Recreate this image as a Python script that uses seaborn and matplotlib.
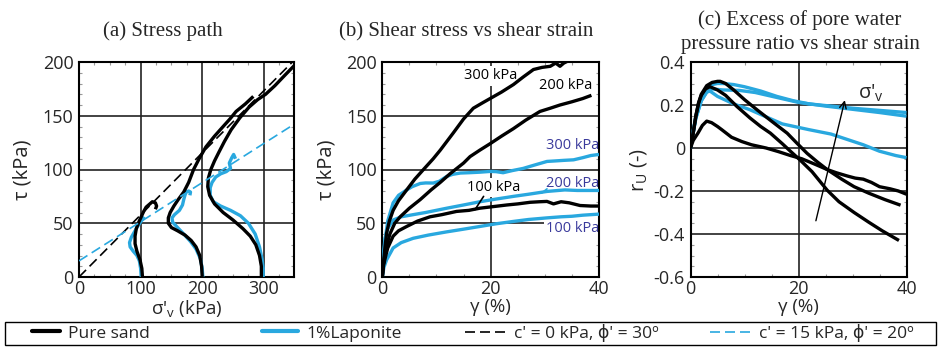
import matplotlib
matplotlib.use("Agg")
import matplotlib.pyplot as plt
import matplotlib.ticker as mticker
from matplotlib.lines import Line2D
from matplotlib.patches import Rectangle
import numpy as np
import seaborn as sns

# ---- (a) stress path: sigma'_v (kPa), tau (kPa)
sand100_sig = [103, 102, 99, 94, 91, 91, 93, 97, 101, 105, 109, 115, 119, 124, 126, 124]
sand100_tau = [0, 8, 16, 24, 31, 38, 45, 51, 56, 61, 65, 68, 70, 69, 66, 63]
sand200_sig = [200, 199, 196, 190, 182, 172, 160, 150, 145, 145, 148, 154, 161, 170, 178, 186,
               195, 206, 220, 234, 245, 255, 270, 283]
sand200_tau = [0, 10, 20, 28, 34, 39, 43, 46, 50, 55, 60, 66, 72, 79, 88, 100,
               110, 121, 131, 140, 147, 154, 161, 168]
sand300_sig = [296, 296, 293, 287, 278, 266, 250, 234, 220, 212, 209, 210, 214, 220, 227, 236,
               247, 261, 276, 290, 303, 318, 333, 350]
sand300_tau = [0, 10, 20, 30, 38, 45, 53, 60, 68, 76, 84, 92, 100, 108, 116, 126,
               137, 148, 158, 165, 170, 178, 187, 197]
lap100_sig = [101, 100, 98, 94, 88, 83, 82, 85, 90, 95, 101, 106]
lap100_tau = [0, 8, 15, 20, 24, 28, 32, 37, 42, 47, 52, 56]
lap200_sig = [201, 200, 197, 190, 181, 170, 160, 152, 151, 155, 163, 168, 170, 172, 174, 178, 181, 180]
lap200_tau = [0, 8, 17, 26, 33, 40, 46, 51, 55, 58, 62, 67, 72, 76, 79, 80, 79, 76]
lap300_sig = [299, 299, 297, 293, 286, 275, 262, 246, 230, 218, 213, 213, 216, 222, 230, 239,
              246, 244, 248, 251, 254]
lap300_tau = [0, 8, 17, 28, 40, 50, 57, 62, 66, 70, 76, 83, 88, 93, 96, 98,
              101, 106, 111, 114, 110]

# failure envelopes (c' kPa, phi' deg)
env_sand = (0.0, 30.0)
env_lap = (15.0, 20.0)
env_sig = [0, 350]

# ---- (b) shear stress vs shear strain: gamma (%), tau (kPa)
sand300_g = [0, 0.2, 0.5, 0.8, 1.3, 2, 3, 4.5, 6, 7.6, 9.4, 10.7, 13.1, 15, 16.8, 18.5, 19.9,
             22, 24.2, 26, 27.9, 29.5, 31, 32, 32.8, 33.5, 34.3]
sand300_t = [0, 12, 28, 41, 52, 62, 71, 81, 91, 100, 110, 118, 134, 147, 157, 162, 166,
             172, 179, 186, 193, 195, 196, 199, 196, 199, 201]
sand200_g = [0, 0.2, 0.6, 1.4, 2.3, 3.3, 5, 7, 9, 10.7, 12.5, 15, 16.2, 18, 19.9, 22, 24.2,
             26.5, 29.1, 31, 32.8, 35, 37, 38.6]
sand200_t = [0, 12, 25, 40, 50, 56, 64, 72, 81, 88, 96, 106, 112, 118, 124, 131, 138,
             146, 154, 157, 160, 163, 166, 169]
sand100_g = [0, 0.2, 0.6, 1, 2, 3, 4.5, 6.5, 8.8, 11, 13.7, 16, 18, 20.5, 23, 25, 27.3, 29,
             30.4, 31.6, 33, 34.5, 36.5, 38.5, 40]
sand100_t = [0, 10, 19, 27, 38, 43, 47, 52, 56, 58, 61, 62, 64, 65.5, 67, 68, 69.5, 70,
             70.3, 68, 70, 69, 66.5, 66, 66]
lap300_g = [0, 0.2, 0.5, 1, 2, 3, 4.5, 5.5, 7, 8, 9.4, 10.5, 11.9, 13, 14.4, 16, 18, 19.9,
            21, 22.3, 24, 26, 28, 30.4, 32, 33.5, 35.3, 37, 38.5, 40]
lap300_t = [0, 15, 34, 52, 69, 76, 81, 84, 87, 87.5, 87.4, 89, 93.6, 95.5, 96.7, 97, 97.5, 98.2,
            98, 97, 99, 101, 104, 107.5, 108, 108.5, 109, 111, 113, 114]
lap200_g = [0, 0.2, 0.5, 1, 2, 3.5, 5.7, 8, 11.9, 15, 18, 21, 24.2, 27, 30.4, 33.7, 36, 38, 40]
lap200_t = [0, 20, 36, 45, 53, 56, 58, 60, 64, 67, 70, 72.5, 75, 77, 79.6, 81, 80.5, 80.5, 80.5]
lap100_g = [0, 0.3, 0.8, 2, 3.5, 5.7, 8.5, 11.9, 15, 18, 21, 24.2, 27, 30.4, 33, 35, 37, 40]
lap100_t = [0, 9, 16, 27, 32, 36, 39, 42, 44.5, 47, 49.5, 51.7, 53.5, 55, 56, 56.5, 57.5, 58.5]

# ---- (c) excess pore pressure ratio: gamma (%), r_u (-)
ru_sand100_g = [0, 0.5, 1.4, 2.2, 3, 3.9, 5, 5.8, 7.6, 9.5, 11.3, 14, 16.3, 18.5, 20.6, 23, 25.3,
                27, 29, 30.5, 32, 33.5, 35, 37, 38.5, 40]
ru_sand100 = [0, 0.035, 0.07, 0.105, 0.125, 0.118, 0.1, 0.085, 0.05, 0.03, 0.015, 0.0, -0.017,
              -0.035, -0.05, -0.075, -0.1, -0.115, -0.13, -0.14, -0.145, -0.16, -0.18, -0.19, -0.2, -0.215]
ru_sand200_g = [0, 0.5, 1, 1.5, 2, 3, 4, 5, 5.5, 6.5, 8, 10, 12.3, 15, 17.9, 19.8, 21.6, 23.5,
                25.3, 28, 30.3, 33, 36, 38.9]
ru_sand200 = [0, 0.07, 0.15, 0.21, 0.25, 0.29, 0.305, 0.31, 0.31, 0.3, 0.27, 0.225, 0.178, 0.125,
              0.069, 0.02, -0.025, -0.065, -0.1, -0.145, -0.18, -0.21, -0.24, -0.266]
ru_sand300_g = [0, 0.5, 1, 1.5, 2, 2.8, 3.6, 5, 6.5, 8.6, 11, 13, 14.8, 17, 18.5, 20.3, 22.5,
                25.3, 27.5, 30.3, 33, 35.5, 38.6]
ru_sand300 = [0, 0.07, 0.15, 0.21, 0.245, 0.275, 0.285, 0.27, 0.245, 0.193, 0.14, 0.1, 0.069,
              0.02, -0.015, -0.056, -0.11, -0.196, -0.25, -0.3, -0.345, -0.385, -0.43]
ru_lapA_g = [0, 0.5, 1, 2, 3, 4, 5, 6, 8, 10, 13, 16, 19, 22, 26, 30, 35, 40]
ru_lapA = [0, 0.08, 0.15, 0.24, 0.28, 0.295, 0.3, 0.3, 0.295, 0.285, 0.265, 0.24, 0.22, 0.205,
           0.195, 0.185, 0.175, 0.165]
ru_lapB_g = [0, 0.5, 1, 2, 3, 4, 6, 9, 12, 16, 20, 25, 30, 35, 40]
ru_lapB = [0, 0.07, 0.14, 0.22, 0.26, 0.275, 0.27, 0.268, 0.258, 0.235, 0.212, 0.195, 0.18,
           0.165, 0.148]
ru_lapC_g = [0, 0.5, 1, 2, 3, 3.6, 5, 8, 11, 14, 17, 22, 26, 29, 32, 35, 38, 40]
ru_lapC = [0, 0.07, 0.14, 0.22, 0.26, 0.265, 0.24, 0.205, 0.178, 0.145, 0.112, 0.085, 0.065,
           0.04, 0.015, -0.015, -0.035, -0.045]

# text labels on (b)
b_labels = ["300 kPa", "200 kPa", "100 kPa", "300 kPa", "200 kPa", "100 kPa"]
b_label_x = [20.0, 33.8, 20.5, 35.2, 35.2, 35.2]
b_label_y = [187, 178, 83.5, 122, 87, 45]

legend_labels = ["Pure sand", "1%Laponite", "c' = 0 kPa, ϕ' = 30º", "c' = 15 kPa, ϕ' = 20º"]

BLACK = "black"
BLUE = "#29a8df"
LABEL_BLUE = "#3a3a9c"
LW = 2.4

sns.set_theme(style="ticks")
plt.rcParams["font.family"] = ["Open Sans", "DejaVu Sans"]
plt.rcParams["mathtext.default"] = "regular"

fig = plt.figure(figsize=(9.41, 3.61), dpi=100)
W, H = 941.0, 361.0


def make_ax(left, right, top=62.0, bottom=277.0):
    return fig.add_axes([left / W, 1 - bottom / H, (right - left) / W, (bottom - top) / H])


def curve(ax, x, y, color):
    sns.lineplot(x=x, y=y, sort=False, estimator=None, color=color, lw=LW, ax=ax,
                 solid_capstyle="butt", zorder=3)


def style_axis(ax, xmaj, ymaj, xmin, ymin):
    ax.xaxis.set_major_locator(mticker.MultipleLocator(xmaj))
    ax.yaxis.set_major_locator(mticker.MultipleLocator(ymaj))
    ax.xaxis.set_minor_locator(mticker.MultipleLocator(xmin))
    ax.yaxis.set_minor_locator(mticker.MultipleLocator(ymin))
    ax.tick_params(which="both", direction="in", top=True, right=True, labelsize=13)
    ax.tick_params(axis="y", which="major", length=0, pad=4)
    ax.tick_params(axis="x", which="major", length=0, pad=2.5)
    ax.tick_params(which="minor", length=2.5, width=0.8, color="#999999")
    ax.grid(True, which="major", color="#222222", lw=1.2)
    ax.set_axisbelow(True)
    for s in ax.spines.values():
        s.set_linewidth(1.5)
        s.set_color("black")


# (a)
ax1 = make_ax(79, 294)
for c, phi, col in [(env_sand[0], env_sand[1], BLACK), (env_lap[0], env_lap[1], BLUE)]:
    tau_env = [c + s * np.tan(np.radians(phi)) for s in env_sig]
    sns.lineplot(x=env_sig, y=tau_env, color=col, lw=1.2, ax=ax1, zorder=4,
                 linestyle=(0, (6, 3)))
curve(ax1, lap100_sig, lap100_tau, BLUE)
curve(ax1, lap200_sig, lap200_tau, BLUE)
curve(ax1, lap300_sig, lap300_tau, BLUE)
curve(ax1, sand100_sig, sand100_tau, BLACK)
curve(ax1, sand200_sig, sand200_tau, BLACK)
curve(ax1, sand300_sig, sand300_tau, BLACK)
ax1.set_xlim(0, 349)
ax1.set_ylim(0, 200)
style_axis(ax1, 100, 50, 25, 10)
ax1.set_xlabel("σ'$_\\mathregular{v}$ (kPa)", fontsize=13.5, labelpad=0)
ax1.set_ylabel("τ (kPa)", fontsize=14.5, labelpad=7)

# (b)
ax2 = make_ax(382.3, 599)
curve(ax2, lap100_g, lap100_t, BLUE)
curve(ax2, lap200_g, lap200_t, BLUE)
curve(ax2, lap300_g, lap300_t, BLUE)
curve(ax2, sand100_g, sand100_t, BLACK)
curve(ax2, sand200_g, sand200_t, BLACK)
curve(ax2, sand300_g, sand300_t, BLACK)
ax2.set_xlim(0, 40)
ax2.set_ylim(0, 200)
style_axis(ax2, 20, 50, 5, 10)
ax2.set_xlabel("γ (%)", fontsize=13.5, labelpad=0)
ax2.set_ylabel("τ (kPa)", fontsize=14.5, labelpad=7)

box = dict(boxstyle="square,pad=0.15", fc="white", ec="none")
ax2.plot([18.7, 17.1], [75, 62.6], color=BLACK, lw=1.2, zorder=4)
ax2.plot([30.4, 29.4], [82, 78], color=BLUE, lw=1.2, zorder=4)
for i, txt in enumerate(b_labels):
    col = BLACK if i < 3 else LABEL_BLUE
    ax2.text(b_label_x[i], b_label_y[i], txt, color=col, fontsize=10.5, ha="center",
             va="center", bbox=box, zorder=2)

# (c)
ax3 = make_ax(690.5, 906.5)
curve(ax3, ru_lapA_g, ru_lapA, BLUE)
curve(ax3, ru_lapB_g, ru_lapB, BLUE)
curve(ax3, ru_lapC_g, ru_lapC, BLUE)
curve(ax3, ru_sand100_g, ru_sand100, BLACK)
curve(ax3, ru_sand200_g, ru_sand200, BLACK)
curve(ax3, ru_sand300_g, ru_sand300, BLACK)
ax3.set_xlim(0, 40)
ax3.set_ylim(-0.6, 0.4)
style_axis(ax3, 20, 0.2, 5, 0.05)
ax3.yaxis.set_major_formatter(mticker.FuncFormatter(lambda v, p: "%g" % round(v, 2)))
ax3.set_xlabel("γ (%)", fontsize=13.5, labelpad=0)
ax3.set_ylabel("r$_\\mathregular{U}$ (-)", fontsize=14.5, labelpad=3)
ax3.annotate("", xy=(28.7, 0.235), xytext=(23.1, -0.351),
             arrowprops=dict(arrowstyle="->", color=BLACK, lw=1.0), zorder=5)
ax3.text(31.0, 0.255, "σ'$_\\mathregular{v}$", fontsize=14.5, ha="left", va="center")

# titles
tfont = dict(family=["Liberation Serif", "DejaVu Serif"], fontsize=15)
fig.text(163 / W, 1 - 36 / H, "(a) Stress path", ha="center", va="baseline", **tfont)
fig.text(466 / W, 1 - 36 / H, "(b) Shear stress vs shear strain", ha="center", va="baseline", **tfont)
fig.text(800 / W, 1 - 25 / H, "(c) Excess of pore water", ha="center", va="baseline", **tfont)
fig.text(800 / W, 1 - 49 / H, "pressure ratio vs shear strain", ha="center", va="baseline", **tfont)

# legend: one frame, entries placed along it
fig.patches.append(Rectangle((5 / W, 1 - 345 / H), 931 / W, 23 / H, transform=fig.transFigure,
                             fill=False, ec="black", lw=1.0))
handles = [Line2D([], [], color=BLACK, lw=3),
           Line2D([], [], color=BLUE, lw=3),
           Line2D([], [], color=BLACK, lw=1.2, linestyle=(0, (6, 3))),
           Line2D([], [], color=BLUE, lw=1.2, linestyle=(0, (6, 3)))]
entry_x = [32, 262, 465, 710]
handle_len = [1.6, 2.1, 2.4, 2.4]
for h, lab, x, hl in zip(handles, legend_labels, entry_x, handle_len):
    fig.legend([h], [lab], loc="center left", bbox_to_anchor=(x / W, 1 - 333.5 / H),
               frameon=False, borderaxespad=0, borderpad=0, fontsize=12.5,
               handlelength=hl, handletextpad=0.45)

fig.savefig("out.png", dpi=100)
